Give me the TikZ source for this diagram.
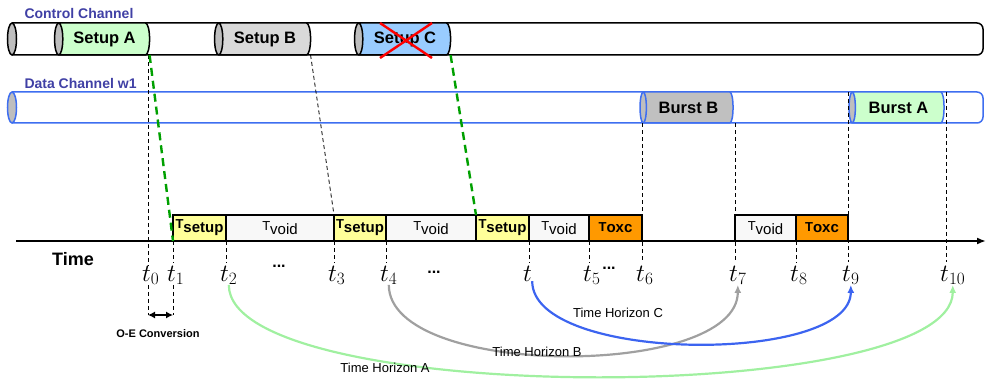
\documentclass[tikz,border=0pt]{standalone}
\usepackage{fontspec}
\setmainfont{Liberation Sans}
\usetikzlibrary{arrows.meta, positioning, shapes.geometric, calc}
\definecolor{chantext}{RGB}{64,64,165}
\definecolor{pipeblue}{RGB}{62,110,240}
\definecolor{capgray}{RGB}{190,190,190}
\definecolor{setupgreen}{RGB}{204,255,204}
\definecolor{setupgray}{RGB}{217,217,217}
\definecolor{setupblue}{RGB}{153,204,255}
\definecolor{burstgray}{RGB}{192,192,192}
\definecolor{tsetupyellow}{RGB}{255,255,153}
\definecolor{toxcorange}{RGB}{255,153,0}
\definecolor{tvoidwhite}{RGB}{248,248,248}
\definecolor{linkgreen}{RGB}{0,160,0}
\definecolor{horizA}{RGB}{160,240,160}
\definecolor{horizB}{RGB}{160,160,160}
\definecolor{horizC}{RGB}{60,100,240}
\newcommand{\Tpre}[2][4pt]{\raisebox{#1}{\fontsize{13}{13}\selectfont T}#2}
\tikzset{
  % the cylinder's length along its axis is its minimum height
  pipe/.style={
    cylinder, shape border rotate=180, aspect=0.55,
    draw=black, line width=1.5pt,
    cylinder uses custom fill, cylinder end fill=capgray,
    cylinder body fill=white,
    minimum width=32, inner sep=0pt, outer sep=0pt,
    font=\fontsize{16.5}{18}\selectfont\bfseries
  },
  datapipe/.style={pipe, draw=pipeblue, minimum width=31},
  channel/.style={line width=1.5pt, fill=white, rounded corners=6pt},
  capend/.style={line width=1.5pt, fill=capgray},
  chan/.style={anchor=west, text=chantext, font=\fontsize{14}{16}\selectfont\bfseries},
  tbox/.style={
    draw=black, line width=1.2pt, minimum height=26,
    inner sep=0pt, outer sep=0pt
  },
  setupbox/.style={tbox, fill=tsetupyellow, font=\fontsize{15}{17}\selectfont\bfseries},
  voidbox/.style={tbox, fill=tvoidwhite, font=\fontsize{15}{17}\selectfont},
  oxcbox/.style={tbox, fill=toxcorange, font=\fontsize{15}{17}\selectfont\bfseries},
  tl/.style={anchor=base west, inner sep=0pt, font=\fontsize{24}{26}\selectfont},
  dots/.style={font=\fontsize{16}{18}\selectfont\bfseries},
  tick/.style={black, line width=0.8pt, dash pattern=on 4pt off 3pt},
  greenlink/.style={linkgreen, line width=2.4pt, dash pattern=on 8pt off 5pt},
  axisline/.style={line width=2pt, -{Latex[length=9pt,width=7pt]}},
  horizon/.style={line width=2.2pt, -{Latex[length=8pt,width=7pt]}},
  hlab/.style={font=\fontsize{13}{15}\selectfont}
}

\begin{document}
\begin{tikzpicture}[x=1pt, y=-1pt]
  \useasboundingbox (0,0) rectangle (986,385);

  % control channel
  \node[chan] (ctrllab) at (21,13) {Control Channel};
  \draw[channel] (12,23) -- (983,23) -- (983,55) -- (12,55);
  \draw[capend] (12,39) ellipse[x radius=4.5, y radius=16];
  \node[pipe, cylinder body fill=setupgreen, minimum height=95] (setupA) at (104.5,39) {Setup A};
  \node[pipe, cylinder body fill=setupgray, minimum height=96] (setupB) at (265,39) {Setup B};
  \node[pipe, cylinder body fill=setupblue, minimum height=96] (setupC) at (405,39) {Setup C};
  \draw[red, line width=2.4pt] ($(setupC.center)+(-25,-16)$) -- ($(setupC.center)+(27,19)$);
  \draw[red, line width=2.4pt] ($(setupC.center)+(27,-16)$) -- ($(setupC.center)+(-25,19)$);

  % data channel
  \node[chan] (datalab) at (21,83) {Data Channel w1};
  \draw[channel, draw=pipeblue] (12,92) -- (983,92) -- (983,123) -- (12,123);
  \draw[capend, draw=pipeblue] (12,107.5) ellipse[x radius=4.5, y radius=15.5];
  \node[datapipe, cylinder body fill=burstgray, minimum height=93] (burstB) at (688.5,107.5) {Burst B};
  \node[datapipe, cylinder body fill=setupgreen, minimum height=95] (burstA) at (898.5,107.5) {Burst A};

  % time axis
  \coordinate (axisL) at (16,241);
  \coordinate (axisR) at (986,241);
  \draw[axisline] (axisL) -- (axisR);
  \node[font=\fontsize{18}{20}\selectfont\bfseries] (time) at (73,259) {Time};

  % reservation slots
  \node[setupbox, minimum width=53, anchor=south west] (ts1) at (173,241) {\Tpre{setup}};
  \node[voidbox, minimum width=108, right=0pt of ts1] (tv1) {\Tpre{void}};
  \node[setupbox, minimum width=52, right=0pt of tv1] (ts2) {\Tpre{setup}};
  \node[voidbox, minimum width=90, right=0pt of ts2] (tv2) {\Tpre{void}};
  \node[setupbox, minimum width=53, right=0pt of tv2] (ts3) {\Tpre{setup}};
  \node[voidbox, minimum width=60, right=0pt of ts3] (tv3) {\Tpre{void}};
  \node[oxcbox, minimum width=53, right=0pt of tv3] (tx1) {\Tpre[1pt]{oxc}};
  \node[voidbox, minimum width=61, anchor=south west] (tv4) at (735,241) {\Tpre{void}};
  \node[oxcbox, minimum width=52, right=0pt of tv4] (tx2) {\Tpre[1pt]{oxc}};

  % instants on the axis
  \foreach \n/\x in {0/148,1/173,2/226,3/334,4/386,5/589,6/642,7/735,8/796,9/848,10/946}{
    \coordinate (x\n) at (\x,241);
    \node[tl] (t\n) at (\x-6,281) {$t_{\n}$};
  }
  \coordinate (xq) at (529,241);
  \node[tl] (tq) at (523,281) {$t$};
  \node[dots] (d1) at (279,266) {...};
  \node[dots] (d2) at (434,272) {...};
  \node[dots] (d3) at (609,268) {...};

  % dashed guides
  \draw[tick] (x0 |- setupA.south) -- (x0 |- t0.north);
  \draw[tick] (setupB.east |- setupB.south) -- (ts2.north west);
  \foreach \n in {1,2,3,4,5,8}
    \draw[tick, shorten >=3pt] (x\n) -- (x\n |- t\n.north);
  \draw[tick, shorten >=3pt] (xq) -- (xq |- tq.north);
  \draw[tick, shorten >=3pt] (x6 |- burstB.south) -- (x6 |- t6.north);
  \draw[tick, shorten >=3pt] (x7 |- burstB.south) -- (x7 |- t7.north);
  \draw[tick, shorten >=3pt] (x9 |- burstA.north) -- (x9 |- t9.north);
  \draw[tick, shorten >=3pt] (x10 |- burstA.north) -- (x10 |- t10.north);
  \draw[greenlink] (setupA.east |- setupA.south) -- (ts1.south west);
  \draw[greenlink] (setupC.east |- setupC.south) -- (ts3.north west);

  % O-E conversion
  \coordinate (oeL) at (148,315);
  \coordinate (oeR) at (173,315);
  \draw[tick] (x0 |- t0.south) -- (oeL);
  \draw[tick] (x1 |- t1.south) -- (oeR);
  \draw[line width=1.2pt, {Latex[length=7pt,width=7pt]}-{Latex[length=7pt,width=7pt]}] (oeL) -- (oeR);
  \node[font=\fontsize{11}{13}\selectfont\bfseries] (oe) at (158,334) {O-E Conversion};

  % time horizons
  \draw[horizon, horizA] (t2.south) .. controls +(0,122) and +(0,122) .. (t10.south);
  \draw[horizon, horizB] (t4.south) .. controls +(0,94) and +(0,94) .. (t7.south);
  \draw[horizon, horizC] (tq.south east) .. controls +(0,82) and +(0,80) .. (t9.south);
  \node[hlab] (hA) at (385,368) {Time Horizon A};
  \node[hlab] (hB) at (537,352) {Time Horizon B};
  \node[hlab] (hC) at (618,313) {Time Horizon C};
\end{tikzpicture}
\end{document}
